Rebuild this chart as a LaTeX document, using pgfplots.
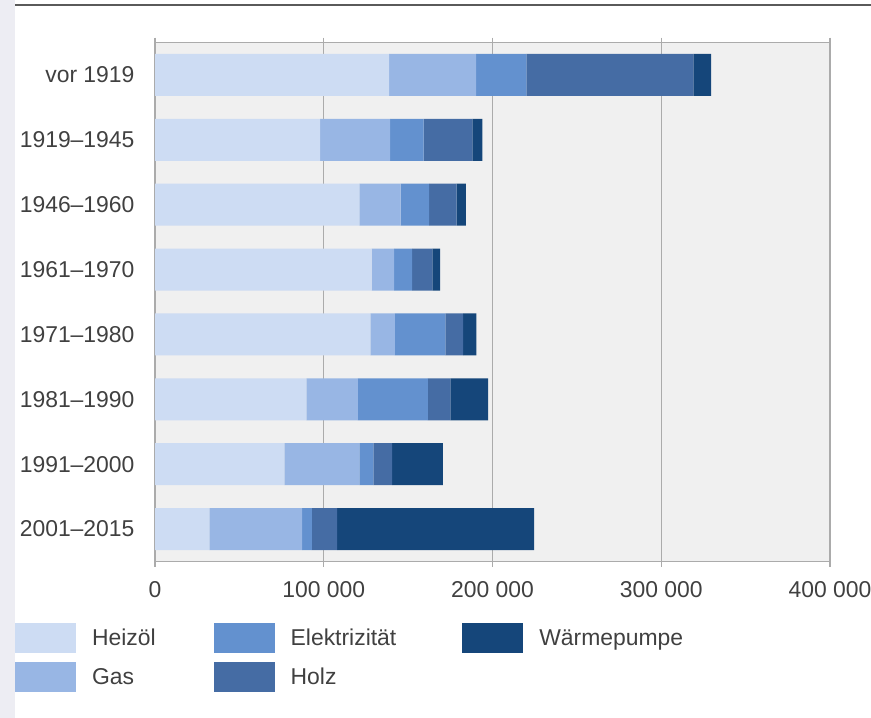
\documentclass[border=0pt]{standalone}
\usepackage{fontspec}
\setmainfont{Liberation Sans}
\usepackage{pgfplots}
\usepackage{pgfplotstable}
\pgfplotsset{compat=1.18}
\definecolor{cHeiz}{HTML}{CDDCF3}
\definecolor{cGas}{HTML}{98B6E4}
\definecolor{cElek}{HTML}{6391CF}
\definecolor{cHolz}{HTML}{456CA4}
\definecolor{cWP}{HTML}{15467A}
\definecolor{bgGray}{HTML}{F0F0F0}
\definecolor{gridGray}{HTML}{ABABAB}
\definecolor{txt}{HTML}{404040}
\definecolor{strip}{HTML}{EDEDF3}
\definecolor{topline}{HTML}{5A5A5A}

\pgfplotstableread{
cat H G E Ho W
0 138700 51600 29800 99000 10400
1 97800 41500 19900 28800 6000
2 121100 24400 17000 16200 5500
3 128300 13400 10700 12000 4600
4 127700 14400 30000 10500 7900
5 89700 30500 41500 13400 22300
6 76700 44400 8300 11100 30100
7 32200 55000 5700 15000 116800
}\data

\pgfplotsset{
  rectlegend/.style={legend image code/.code={\fill[##1,draw=none] (0bp,-15bp) rectangle (61bp,15bp);\path (75bp,0bp);}},
}

\begin{document}
\begin{tikzpicture}
\fill[strip] (0,0) rectangle (15bp,-718bp);
\draw[topline, line width=2.5bp] (15bp,-5bp) -- (871bp,-5bp);
\begin{axis}[
  set layers,
  at={(155bp,-561.5bp)}, anchor=south west,
  scale only axis, width=675bp, height=519bp,
  xbar stacked, bar width=42bp,
  xmin=0, xmax=400000, ymin=-0.5, ymax=7.5, y dir=reverse,
  xtick={0,100000,200000,300000,400000},
  xticklabels={0,100 000,200 000,300 000,400 000},
  ytick={0,1,2,3,4,5,6,7},
  yticklabels={vor 1919,1919--1945,1946--1960,1961--1970,1971--1980,1981--1990,1991--2000,2001--2015},
  xmajorgrids, major grid style={gridGray, line width=1.3bp},
  axis line style={gridGray, line width=1.5bp},
  axis background/.style={fill=bgGray},
  tick align=outside, major tick length=5bp,
  xtick style={gridGray, line width=1.3bp},
  ytick style={draw=none},
  ticklabel style={font=\fontsize{23}{27}\selectfont, text=txt},
  yticklabel style={xshift=-12bp},
  xticklabel style={yshift=-11bp},
  scaled x ticks=false,
  transpose legend, legend columns=2,
  legend cell align=left,
  legend style={at={(-0.2074,-0.1185)}, anchor=north west, draw=none, fill=none,
    inner sep=0pt, outer sep=0pt, font=\fontsize{23}{27}\selectfont, text=txt,
    /tikz/column 2/.style={column sep=56bp},
    /tikz/column 4/.style={column sep=64bp},
    /tikz/row sep=9bp},
]
\addplot[fill=cHeiz, draw=none, rectlegend] table[x=H, y=cat] {\data};
\addplot[fill=cGas, draw=none, rectlegend] table[x=G, y=cat] {\data};
\addplot[fill=cElek, draw=none, rectlegend] table[x=E, y=cat] {\data};
\addplot[fill=cHolz, draw=none, rectlegend] table[x=Ho, y=cat] {\data};
\addplot[fill=cWP, draw=none, rectlegend] table[x=W, y=cat] {\data};
\legend{Heizöl,Gas,Elektrizität,Holz,Wärmepumpe}
\end{axis}
\pgfresetboundingbox
\path[use as bounding box] (0,0) rectangle (871bp,-718bp);
\end{tikzpicture}
\end{document}
